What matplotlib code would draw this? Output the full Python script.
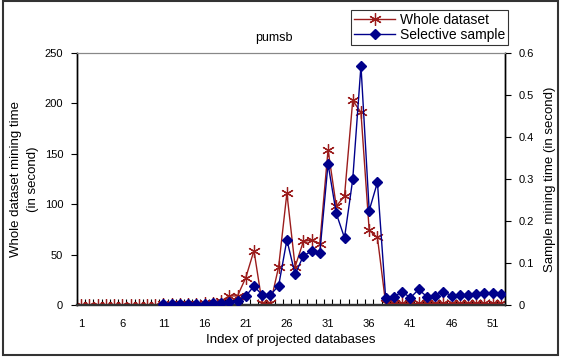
import matplotlib.pyplot as plt
from matplotlib.patches import Rectangle
import numpy as np

plt.rc('font', family=['Liberation Sans', 'DejaVu Sans'], size=8)

# Indice de bases proyectadas (1..52)
index = np.arange(1, 53)

# Tiempo de minado del dataset completo (eje izquierdo, segundos)
whole = [0, 0, 0, 0, 0, 0, 0, 0, 0, 0,
         0.5, 0.5, 0.5, 0.8, 1, 1.5, 2, 4, 9, 9,
         27, 54, 1.5, 1.5, 38, 111, 38, 63, 64.5, 61,
         154, 98, 108, 203, 191, 74, 67, 1.5, 1.5, 1.5,
         1.5, 1.5, 1.5, 1.5, 1.5, 1.5, 1.5, 1.5, 1.5, 1.5,
         1.5, 1.5]

# Tiempo de minado de la muestra selectiva (eje derecho, segundos); empieza en 11
sample_idx = np.arange(11, 53)
sample = [0.002, 0.002, 0.002, 0.002, 0.002, 0.003, 0.004, 0.005, 0.007, 0.009,
          0.021, 0.045, 0.024, 0.024, 0.046, 0.155, 0.073, 0.117, 0.128, 0.125,
          0.336, 0.218, 0.160, 0.299, 0.570, 0.225, 0.292, 0.017, 0.019, 0.032,
          0.017, 0.037, 0.020, 0.022, 0.032, 0.022, 0.024, 0.025, 0.026, 0.028,
          0.028, 0.026]

red = '#9B1C1C'
blue = '#00008B'

fig = plt.figure(figsize=(5.63, 3.62), dpi=100)
ax = fig.add_axes([77 / 563, 57 / 362, 428 / 563, 252 / 362])
ax2 = ax.twinx()

l1, = ax.plot(index, whole, color=red, lw=1, marker=(6, 2, 0), ms=9,
              mew=0.9, label='Whole dataset', zorder=3)
l2, = ax2.plot(sample_idx, sample, color=blue, lw=1, marker='D', ms=5.5,
               mfc=blue, mec=blue, label='Selective sample', zorder=3)

ax.set_xlim(0.5, 52.5)
ax.set_ylim(0, 250)
ax2.set_ylim(0, 0.6)
ax.set_yticks(np.arange(0, 251, 50))
ax2.set_yticks(np.arange(0, 0.61, 0.1))
ax2.set_yticklabels(['0', '0.1', '0.2', '0.3', '0.4', '0.5', '0.6'])

ax.set_xticks(np.arange(1, 53, 5))
ax.set_xticks(np.arange(0.5, 53, 1), minor=True)
ax.tick_params(axis='x', which='major', length=0, pad=10)
ax.tick_params(axis='x', which='minor', direction='in', length=4, width=0.8)
ax.tick_params(axis='y', direction='out', length=4, width=0.8, pad=6)
ax2.tick_params(axis='y', direction='out', length=4, width=0.8, pad=6)

for a in (ax, ax2):
    a.spines['top'].set_color('#888888')
    a.spines['top'].set_linewidth(0.8)
    a.spines['left'].set_linewidth(1)
    a.spines['right'].set_linewidth(1)
    a.spines['bottom'].set_linewidth(1.6)
    a.spines['bottom'].set_color('#333333')

ax.set_xlabel('Index of projected databases', fontsize=9.5, labelpad=4)
ax.set_ylabel('Whole dataset mining time\n(in second)', fontsize=9.5,
              labelpad=4, linespacing=1.6)
ax2.set_ylabel('Sample mining time (in second)', fontsize=9.5, labelpad=7)

fig.text(274 / 563, 1 - 38 / 362, 'pumsb', ha='center', va='center', fontsize=9)

leg = fig.legend(handles=[l1, l2], loc='upper left',
                 bbox_to_anchor=(351 / 563, 1 - 10 / 362), fontsize=10,
                 frameon=True, fancybox=False, edgecolor='black',
                 borderpad=0.2, labelspacing=0.1, handlelength=3.0,
                 handletextpad=0.3, borderaxespad=0)
leg.get_frame().set_linewidth(0.8)

# Marco exterior de la figura
fig.patches.append(Rectangle((3 / 563, 7 / 362), 555 / 563, 354 / 362,
                             transform=fig.transFigure, fill=False,
                             edgecolor='#333333', lw=1.5))

plt.savefig('out.png', dpi=100)
